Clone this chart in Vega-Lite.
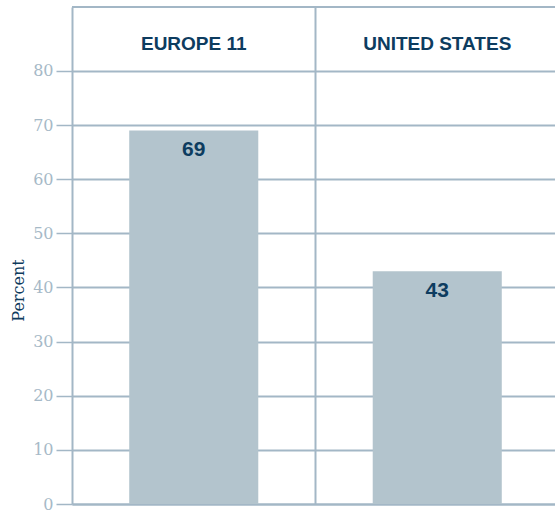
{
  "$schema": "https://vega.github.io/schema/vega-lite/v6.json",
  "width": 487,
  "height": 497,
  "autosize": {"type": "none"},
  "padding": {"left": 72, "top": 7, "right": 0, "bottom": 12},
  "background": "white",
  "config": {"view": {"stroke": null}},
  "data": {"values": [
    {"region": "EUROPE 11", "percent": 69},
    {"region": "UNITED STATES", "percent": 43}
  ]},
  "encoding": {
    "x": {
      "field": "region", "type": "nominal", "sort": null,
      "scale": {"paddingInner": 0, "paddingOuter": 0},
      "axis": {
        "title": null, "labels": false, "ticks": false,
        "domain": true, "domainColor": "#a3b7c6", "domainWidth": 2,
        "grid": true, "bandPosition": 0, "gridColor": "#a3b7c6", "gridWidth": 2
      }
    }
  },
  "layer": [
    {
      "mark": {"type": "bar", "color": "#b3c4cd", "width": {"band": 0.53}},
      "encoding": {
        "y": {
          "field": "percent", "type": "quantitative",
          "scale": {"domain": [0, 91.8], "nice": false},
          "axis": {
            "values": [0, 10, 20, 30, 40, 50, 60, 70, 80],
            "title": "Percent",
            "domain": false,
            "grid": true, "gridColor": "#a3b7c6", "gridWidth": 2,
            "tickSize": 16, "tickColor": "#a3b7c6", "tickWidth": 1.5,
            "labelPadding": 3,
            "labelFont": "DejaVu Serif", "labelFontSize": 16, "labelColor": "#a6b9c7",
            "titleFont": "DejaVu Serif", "titleFontSize": 16, "titleFontWeight": "normal",
            "titleColor": "#0d3a5c",
            "titleX": -54, "titleY": 283, "titleAlign": "center", "titleBaseline": "middle", "titleAngle": -90
          }
        }
      }
    },
    {
      "mark": {"type": "text", "font": "Liberation Sans", "fontWeight": "bold", "fontSize": 21, "color": "#0d3c5f", "dy": 20, "baseline": "middle"},
      "encoding": {
        "y": {"field": "percent", "type": "quantitative"},
        "text": {"field": "percent", "type": "quantitative"}
      }
    },
    {
      "mark": {"type": "text", "font": "Liberation Sans", "fontWeight": "bold", "fontSize": 19, "color": "#0d3c5f", "baseline": "middle"},
      "encoding": {
        "y": {"datum": 85},
        "text": {"field": "region", "type": "nominal"}
      }
    },
    {
      "mark": {"type": "rule", "color": "#a3b7c6", "strokeWidth": 2},
      "encoding": {
        "y": {"datum": 91.8},
        "x": {"value": 0},
        "x2": {"value": 487}
      }
    }
  ]
}
